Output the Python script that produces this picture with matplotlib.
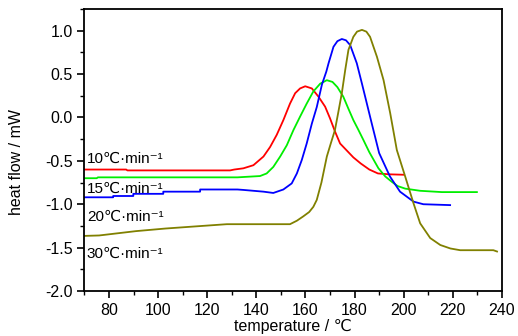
import matplotlib
matplotlib.use("Agg")
import matplotlib.pyplot as plt
from matplotlib.ticker import MultipleLocator

plt.rcParams['font.family'] = ['Liberation Sans', 'DejaVu Sans']

# DSC curves (temperature in C, heat flow in mW)
t_10 = [70, 87, 87.5, 129.3, 131, 134.7, 138.8, 142.9, 145.6, 148.3, 151, 153.7,
        155.8, 157.8, 159.9, 162.6, 165.3, 168, 170, 172, 174.1, 176.8, 179.5, 182.5,
        186, 189.5, 194, 199.9]
q_10 = [-0.60, -0.60, -0.61, -0.61, -0.60, -0.586, -0.55, -0.45, -0.34, -0.20, -0.03, 0.16,
        0.28, 0.335, 0.36, 0.335, 0.24, 0.125, -0.01, -0.16, -0.30, -0.38, -0.46, -0.53,
        -0.60, -0.645, -0.655, -0.66]

t_15 = [70, 75, 75.5, 132.3, 141.5, 144.2, 146.9, 149.7, 152.4, 155.1, 157.8, 160.5,
        163.2, 166, 168.7, 171, 173, 175.4, 177.5, 179.5, 181.5, 183.6, 186, 189.7,
        192.5, 195.1, 197.5, 200.6, 206.7, 215.5, 229.8]
q_15 = [-0.70, -0.70, -0.69, -0.69, -0.675, -0.645, -0.57, -0.45, -0.32, -0.145, 0.01, 0.16,
        0.30, 0.39, 0.43, 0.41, 0.35, 0.24, 0.10, -0.03, -0.14, -0.26, -0.40, -0.585,
        -0.68, -0.74, -0.79, -0.82, -0.845, -0.86, -0.86]

t_20 = [70, 81.7, 81.7, 89.9, 89.9, 102.1, 102.1, 117.1, 117.1, 132.3, 134.7, 142.9,
        146.9, 151, 154.4, 156.5, 158.5, 160.5, 162.6, 164.6, 166.7, 168.5, 169.4, 171.4,
        173, 174.8, 176.5, 178.2, 180.9, 183, 185, 187, 190, 194.4, 198.5, 204, 208, 218.9]
q_20 = [-0.92, -0.92, -0.905, -0.905, -0.88, -0.88, -0.855, -0.855, -0.83, -0.83, -0.835, -0.855,
        -0.87, -0.83, -0.76, -0.645, -0.49, -0.30, -0.07, 0.12, 0.38, 0.53, 0.625, 0.815,
        0.88, 0.905, 0.89, 0.835, 0.625, 0.39, 0.16, -0.07, -0.41, -0.68, -0.855, -0.97, -1.0, -1.01]

t_30 = [70, 76, 91, 103, 118, 128, 153.7, 156.5, 159.1, 161.5, 163.2, 164.6, 166.5,
        168.7, 170.3, 172, 173.3, 174.8, 176.2, 177.5, 179.5, 181, 183, 184.8, 186.3,
        189.1, 191.8, 194.5, 197.2, 200.6, 204, 206.7, 210.8, 214.9, 219, 223, 236.5, 238]
q_30 = [-1.365, -1.36, -1.31, -1.28, -1.25, -1.23, -1.23, -1.19, -1.14, -1.09, -1.03, -0.95, -0.75,
        -0.45, -0.30, -0.145, 0.05, 0.28, 0.55, 0.78, 0.93, 0.99, 1.01, 0.99, 0.93,
        0.70, 0.43, 0.05, -0.375, -0.68, -0.99, -1.22, -1.39, -1.47, -1.51, -1.53, -1.53, -1.545]

rates = ['10', '15', '20', '30']
colors = ['#ff0000', '#00ee00', '#0000ff', '#808000']
label_y = [-0.48, -0.82, -1.15, -1.575]

fig = plt.figure(figsize=(5.18, 3.36), dpi=100)
ax = fig.add_axes([0.163, 0.134, 0.806, 0.839])

for t, q, c in zip([t_10, t_15, t_20, t_30], [q_10, q_15, q_20, q_30], colors):
    ax.plot(t, q, color=c, linewidth=1.3)

for r, y in zip(rates, label_y):
    ax.text(71.0, y, r + '\u2103\u00b7min\u207b\u00b9', fontsize=11, va='center', ha='left')

ax.set_xlim(70, 240)
ax.set_ylim(-2.0, 1.25)
ax.xaxis.set_minor_locator(MultipleLocator(10))
ax.yaxis.set_minor_locator(MultipleLocator(0.25))
ax.set_xticks(range(80, 241, 20))
ax.set_yticks([1.0, 0.5, 0.0, -0.5, -1.0, -1.5, -2.0])
ax.set_yticklabels(['1.0', '0.5', '0.0', '-0.5', '-1.0', '-1.5', '-2.0'])
ax.tick_params(which='major', direction='out', length=5, width=1.2, labelsize=11.5)
ax.tick_params(which='minor', direction='out', length=3, width=1.0)
for s in ax.spines.values():
    s.set_linewidth(1.3)

ax.set_xlabel('temperature / \u2103', fontsize=11.5)
ax.xaxis.set_label_coords(0.5, -0.10)
ax.set_ylabel('heat flow / mW', fontsize=11.5)
ax.yaxis.set_label_coords(-0.145, 0.456)

fig.savefig('out.png', dpi=100)
